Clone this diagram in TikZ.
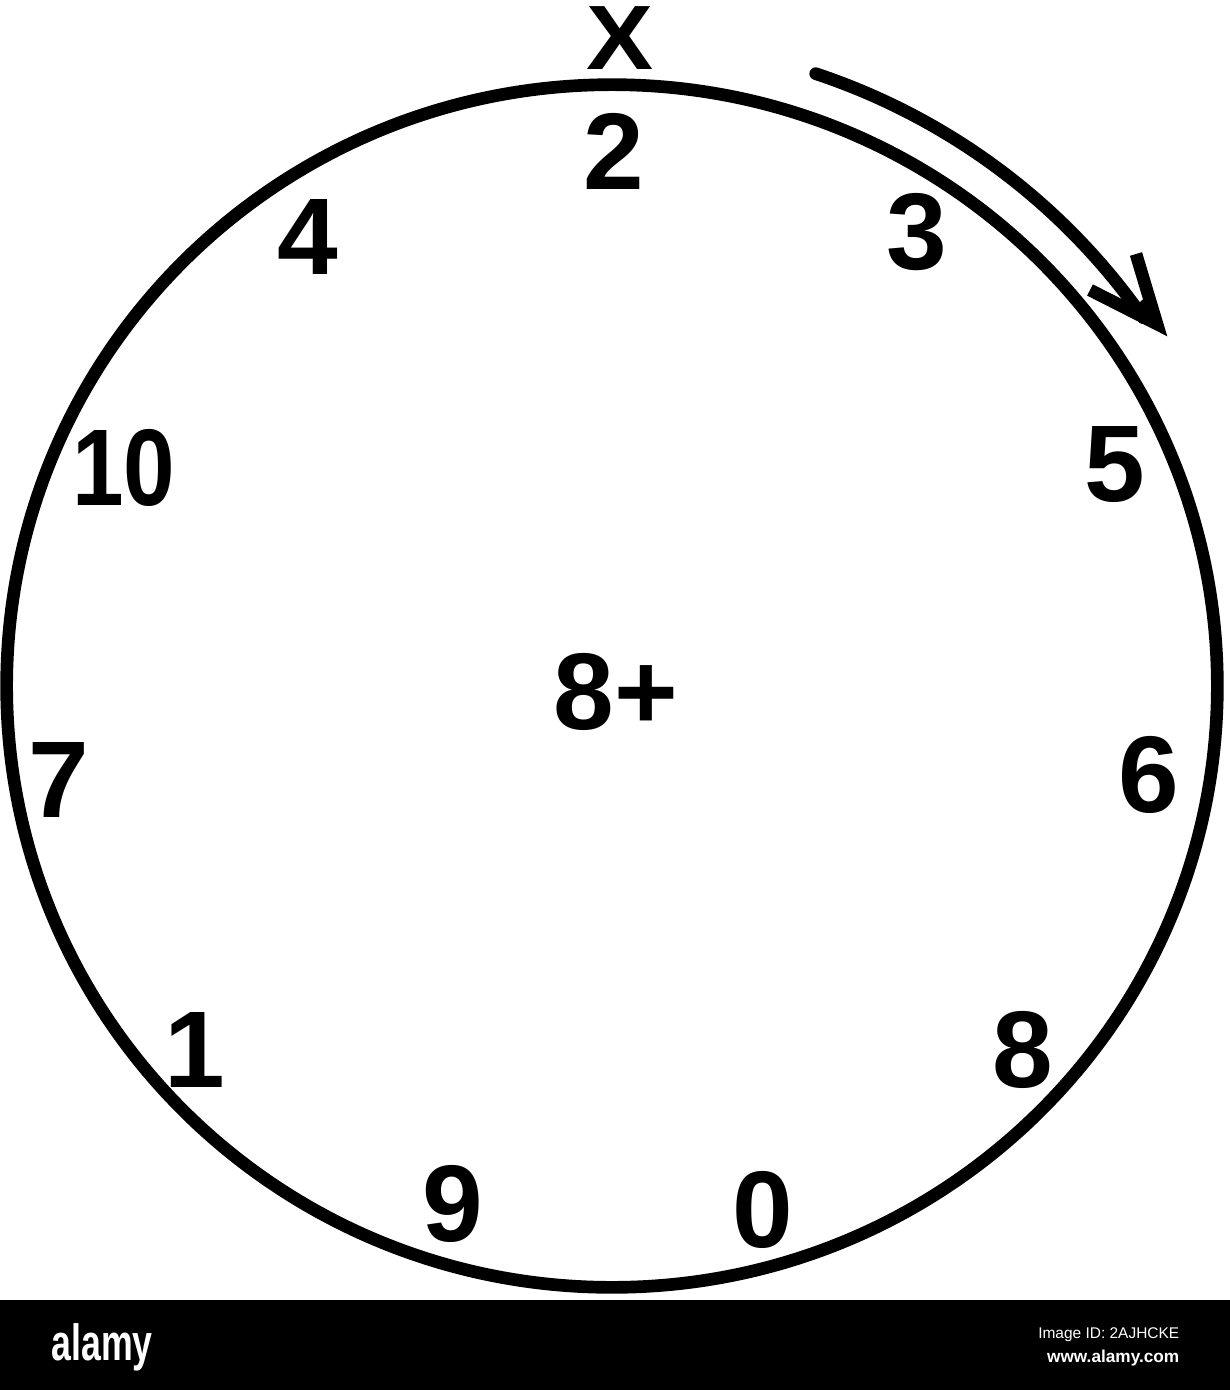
\documentclass[tikz,border=0pt]{standalone}
\usepackage{fontspec}
\setmainfont{Liberation Sans}
\begin{document}
\begin{tikzpicture}[x=0.01cm,y=-0.01cm,
  num/.style={font=\fontsize{31}{31}\selectfont\bfseries, inner sep=0pt},
  heavy/.style={line width=3.6pt},
  wm/.style={text=white, inner sep=0pt}]
\useasboundingbox (0,0) rectangle (1230,1390);
\fill[white] (0,0) rectangle (1230,1390);
\coordinate (c) at (612,686);
% dial
\draw[heavy] (c) ellipse [x radius=6.05cm, y radius=6.01cm];
% labels
\node[inner sep=0pt, font=\fontsize{26}{26}\selectfont\bfseries, xscale=1.1] (X) at (620,38) {X};
\node[num] (n2) at (614,151) {2};
\node[num] (n4) at (308,237) {4};
\node[num] (n3) at (917,232) {3};
\node[num, xscale=0.85] (n10) at (124,468) {10};
\node[num] (n5) at (1115,465) {5};
\node[num] (n7) at (59,780) {7};
\node[num] (n6) at (1149,775) {6};
\node[num] (n8p) at (616,692) {8+};
\node[num] (n1) at (195,1050) {1};
\node[num] (n8) at (1023,1050) {8};
\node[num] (n9) at (453,1204) {9};
\node[num] (n0) at (763,1210) {0};
% rotation arrow
\coordinate (tip) at (1157,324);
\coordinate (barbA) at (1136,254);
\coordinate (barbB) at (1090,290);
\draw[heavy, line cap=round] (c) ++(71.6:6.45cm) arc[start angle=71.6, end angle=35, radius=6.5cm];
\draw[heavy, line join=miter, line cap=butt] (barbA) -- (tip) -- (barbB);
\draw[heavy] (c) ++(36:6.5cm) -- ([shift={(-4,-4)}]tip);
% stock-photo banner
\fill[black] (0,1300) rectangle (1230,1390);
\node[wm, anchor=base west, font=\fontsize{14.5}{14.5}\selectfont\bfseries, xscale=0.7] (brand) at (51,1360) {alamy};
\node[wm, anchor=base east, font=\fontsize{4.4}{4.4}\selectfont] (imgid) at (1180,1338) {Image ID: 2AJHCKE};
\node[wm, anchor=base east, font=\fontsize{4.9}{4.9}\selectfont\bfseries] (url) at (1180,1362) {www.alamy.com};
\end{tikzpicture}
\end{document}
